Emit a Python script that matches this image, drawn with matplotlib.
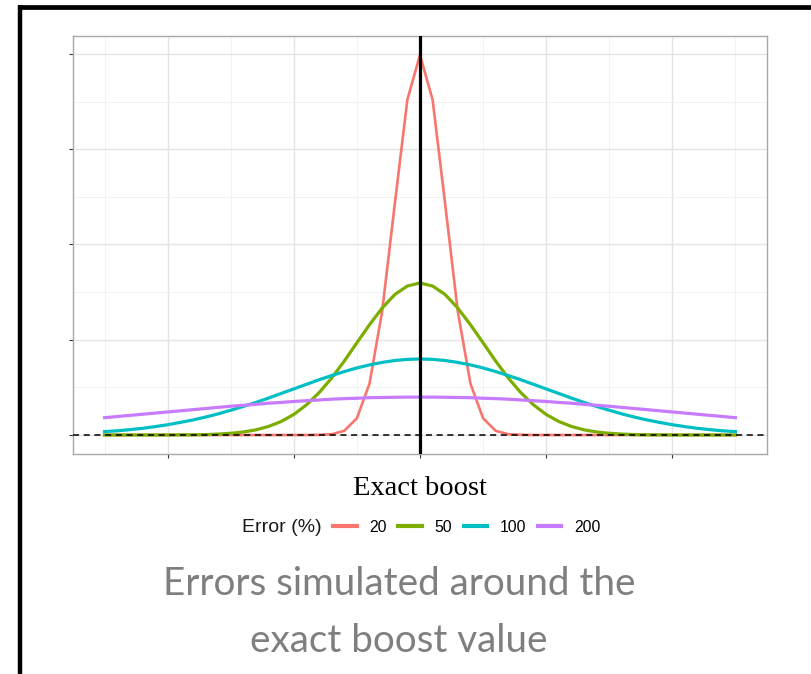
import matplotlib
matplotlib.use("Agg")
import matplotlib.pyplot as plt
from matplotlib.lines import Line2D

# sample positions around the exact boost (shared by all curves)
boost = [-2.5, -2.4, -2.3, -2.2, -2.1, -2.0, -1.9, -1.8, -1.7, -1.6,
         -1.5, -1.4, -1.3, -1.2, -1.1, -1.0, -0.9, -0.8, -0.7, -0.6,
         -0.5, -0.4, -0.3, -0.2, -0.1, 0.0, 0.1, 0.2, 0.3, 0.4,
         0.5, 0.6, 0.7, 0.8, 0.9, 1.0, 1.1, 1.2, 1.3, 1.4,
         1.5, 1.6, 1.7, 1.8, 1.9, 2.0, 2.1, 2.2, 2.3, 2.4, 2.5]

err_20 = [0, 0, 0, 0, 0, 0, 0, 0, 0, 0,
          0, 0, 0, 0, 0, 0, 0.000, 0.001, 0.004, 0.022,
          0.088, 0.270, 0.648, 1.210, 1.760, 1.995, 1.760, 1.210, 0.648, 0.270,
          0.088, 0.022, 0.004, 0.001, 0.000, 0, 0, 0, 0, 0,
          0, 0, 0, 0, 0, 0, 0, 0, 0, 0, 0]

err_50 = [0, 0, 0, 0, 0, 0, 0.001, 0.001, 0.002, 0.005,
          0.009, 0.016, 0.027, 0.045, 0.071, 0.108, 0.158, 0.222, 0.299, 0.388,
          0.484, 0.579, 0.666, 0.737, 0.782, 0.798, 0.782, 0.737, 0.666, 0.579,
          0.484, 0.388, 0.299, 0.222, 0.158, 0.108, 0.071, 0.045, 0.027, 0.016,
          0.009, 0.005, 0.002, 0.001, 0.001, 0, 0, 0, 0, 0, 0]

err_100 = [0.018, 0.022, 0.028, 0.035, 0.044, 0.054, 0.066, 0.079, 0.094, 0.111,
           0.130, 0.150, 0.171, 0.194, 0.218, 0.242, 0.266, 0.290, 0.312, 0.333,
           0.352, 0.368, 0.381, 0.391, 0.397, 0.399, 0.397, 0.391, 0.381, 0.368,
           0.352, 0.333, 0.312, 0.290, 0.266, 0.242, 0.218, 0.194, 0.171, 0.150,
           0.130, 0.111, 0.094, 0.079, 0.066, 0.054, 0.044, 0.035, 0.028, 0.022, 0.018]

err_200 = [0.091, 0.097, 0.103, 0.109, 0.115, 0.121, 0.127, 0.133, 0.139, 0.145,
           0.151, 0.156, 0.161, 0.167, 0.171, 0.176, 0.180, 0.184, 0.188, 0.191,
           0.193, 0.196, 0.197, 0.198, 0.199, 0.199, 0.199, 0.198, 0.197, 0.196,
           0.193, 0.191, 0.188, 0.184, 0.180, 0.176, 0.171, 0.167, 0.161, 0.156,
           0.151, 0.145, 0.139, 0.133, 0.127, 0.121, 0.115, 0.109, 0.103, 0.097, 0.091]

error_labels = ["20", "50", "100", "200"]
series = [err_20, err_50, err_100, err_200]
colors = ["#F8766D", "#7CAE00", "#00BFC4", "#C77CFF"]
widths = [1.9, 2.3, 2.3, 2.3]

x_major = [-2, -1, 0, 1, 2]
x_minor = [-2.5, -1.5, -0.5, 0.5, 1.5, 2.5]
y_major = [0, 0.5, 1.0, 1.5, 2.0]
y_minor = [0.25, 0.75, 1.25, 1.75]

fig = plt.figure(figsize=(8.11, 6.74), dpi=100)
ax = fig.add_axes([0.090, 0.3264, 0.8557, 0.6202])

handles = []
for vals, col, lw, lab in zip(series, colors, widths, error_labels):
    ln, = ax.plot(boost, vals, color=col, lw=lw, label=lab, zorder=3,
                  solid_joinstyle="miter")
    handles.append(ln)

ax.axvline(0, color="black", lw=2.3, zorder=4)
ax.axhline(0, color="black", lw=1.1, ls=(0, (4, 3)), zorder=5)

ax.set_xlim(-2.75, 2.75)
ax.set_ylim(-0.0997, 2.0944)
ax.set_xticks(x_major)
ax.set_xticks(x_minor, minor=True)
ax.set_yticks(y_major)
ax.set_yticks(y_minor, minor=True)
ax.set_xticklabels([])
ax.set_yticklabels([])
ax.tick_params(which="major", length=3, width=0.8, color="#333333")
ax.tick_params(which="minor", length=0)
ax.grid(which="major", color="#e4e4e4", lw=1.0, zorder=0)
ax.grid(which="minor", color="#f0f0f0", lw=0.6, zorder=0)
ax.set_axisbelow(True)
for sp in ax.spines.values():
    sp.set_color("#a8a8a8")
    sp.set_linewidth(1.0)

fig.text(0.518, 1 - 495 / 674, "Exact boost", ha="center", va="baseline",
         fontsize=20.5, family="Liberation Serif", color="black")

fig.text(322 / 811, 1 - 527 / 674, "Error (%)", ha="right", va="center",
         fontsize=14, family="Liberation Sans", color="#1a1a1a")
fig.legend(handles=[Line2D([], [], color=c, lw=3.0) for c in colors],
           labels=error_labels, loc="center left",
           bbox_to_anchor=(333 / 811, 1 - 527 / 674), ncol=4, frameon=False,
           borderpad=0, borderaxespad=0, handlelength=1.5,
           handletextpad=0.8, columnspacing=0.74,
           prop={"family": "Liberation Sans", "size": 11.3})

fig.text(399 / 811, 1 - 595 / 674, "Errors simulated around the",
         ha="center", va="baseline", fontsize=27.8, family="Lato", color="#7f7f7f")
fig.text(399 / 811, 1 - 652 / 674, "exact boost value",
         ha="center", va="baseline", fontsize=27.8, family="Lato", color="#7f7f7f")

# slide frame, top and left edges
fig.add_artist(Line2D([18 / 811, 1.0], [1 - 7 / 674, 1 - 7 / 674],
                      color="black", lw=3.4, solid_capstyle="butt"))
fig.add_artist(Line2D([20 / 811, 20 / 811], [1 - 5 / 674, 0.0],
                      color="black", lw=3.2, solid_capstyle="butt"))

fig.savefig("out.png", dpi=100)
